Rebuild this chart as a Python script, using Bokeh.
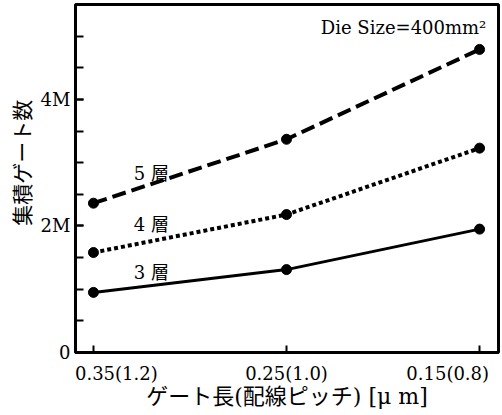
from bokeh.plotting import figure
from bokeh.models import Range1d, FixedTicker, Label
from bokeh.embed import file_html
from bokeh.resources import INLINE

# ---- data ----
categories = ["0.35(1.2)", "0.25(1.0)", "0.15(0.8)"]
layer3 = [0.95, 1.31, 1.95]   # M gates
layer4 = [1.58, 2.18, 3.23]
layer5 = [2.36, 3.37, 4.79]
series_names = ["3 層", "4 層", "5 層"]
y_tick_labels = {0: "0", 2: "2M", 4: "4M"}
x_label = "ゲート長(配線ピッチ) [μ m]"
y_label = "集積ゲート数"
note = "Die Size=400mm²"

SERIF = "'DejaVu Serif', 'Noto Sans CJK JP'"
CJK = "'Noto Sans CJK JP'"
FS = "\u2007"  # figure space, used to nudge the outer tick labels inward

xs = list(range(len(categories)))
x_tick_text = [FS * 4 + categories[0], categories[1], categories[2] + FS]

p = figure(width=500, height=414, output_backend="svg", toolbar_location=None,
           x_range=Range1d(-0.093, 2.098), y_range=Range1d(0, 5.5),
           min_border_left=75, min_border_right=2, min_border_top=4,
           min_border_bottom=62)
p.grid.visible = False
p.background_fill_color = "white"
p.border_fill_color = "white"
p.outline_line_color = "black"
p.outline_line_width = 3

# x axis
xa = p.xaxis[0]
xa.ticker = FixedTicker(ticks=xs)
xa.major_label_overrides = {i: t for i, t in zip(xs, x_tick_text)}
xa.major_tick_in = 7
xa.major_tick_out = 0
xa.minor_tick_in = 0
xa.minor_tick_out = 0
xa.major_tick_line_width = 2
xa.axis_line_width = 3
xa.axis_line_color = "black"
xa.major_label_text_font = SERIF
xa.major_label_text_font_size = "18px"
xa.major_label_text_color = "black"
xa.major_label_text_line_height = 1.0
xa.major_label_standoff = 10
xa.axis_label = x_label
xa.axis_label_text_font = SERIF
xa.axis_label_text_font_size = "22px"
xa.axis_label_text_font_style = "normal"
xa.axis_label_text_color = "black"
xa.axis_label_text_line_height = 1.0
xa.axis_label_standoff = -3

# y axis
ya = p.yaxis[0]
ya.ticker = FixedTicker(ticks=list(y_tick_labels.keys()),
                        minor_ticks=[i * 0.5 for i in range(1, 11)])
ya.major_label_overrides = dict(y_tick_labels)
ya.major_tick_in = 8
ya.major_tick_out = 0
ya.minor_tick_in = 8
ya.minor_tick_out = 0
ya.major_tick_line_width = 2
ya.minor_tick_line_width = 2
ya.minor_tick_line_color = "black"
ya.axis_line_width = 3
ya.axis_line_color = "black"
ya.major_label_text_font = SERIF
ya.major_label_text_font_size = "18px"
ya.major_label_text_color = "black"
ya.major_label_standoff = 5
ya.axis_label = "\u3000\u2002" + y_label
ya.axis_label_text_font = CJK
ya.axis_label_text_font_size = "21px"
ya.axis_label_text_font_style = "normal"
ya.axis_label_text_color = "black"
ya.axis_label_text_line_height = 1.0
ya.axis_label_standoff = 2

# series
p.line(xs, layer3, line_width=3, line_color="black")
p.line(xs, layer4, line_width=4, line_color="black", line_dash="4 3")
p.line(xs, layer5, line_width=4, line_color="black", line_dash="14 6")
for ys in (layer3, layer4, layer5):
    p.scatter(xs, ys, size=10, marker="circle", fill_color="black", line_color="black")

# series labels
label_pos = [(0.30, 1.27), (0.30, 2.03), (0.30, 2.83)]
for name, (lx, ly) in zip(series_names, label_pos):
    p.add_layout(Label(x=lx, y=ly, text=name, text_align="center",
                       text_baseline="middle", text_font=SERIF,
                       text_font_size="18px", text_color="black"))

# die size note
p.add_layout(Label(x=2.035, y=5.14, text=note, text_align="right",
                   text_baseline="alphabetic", text_font=SERIF,
                   text_font_size="18px", text_color="black"))

open("out.html", "w").write(file_html(p, INLINE))
